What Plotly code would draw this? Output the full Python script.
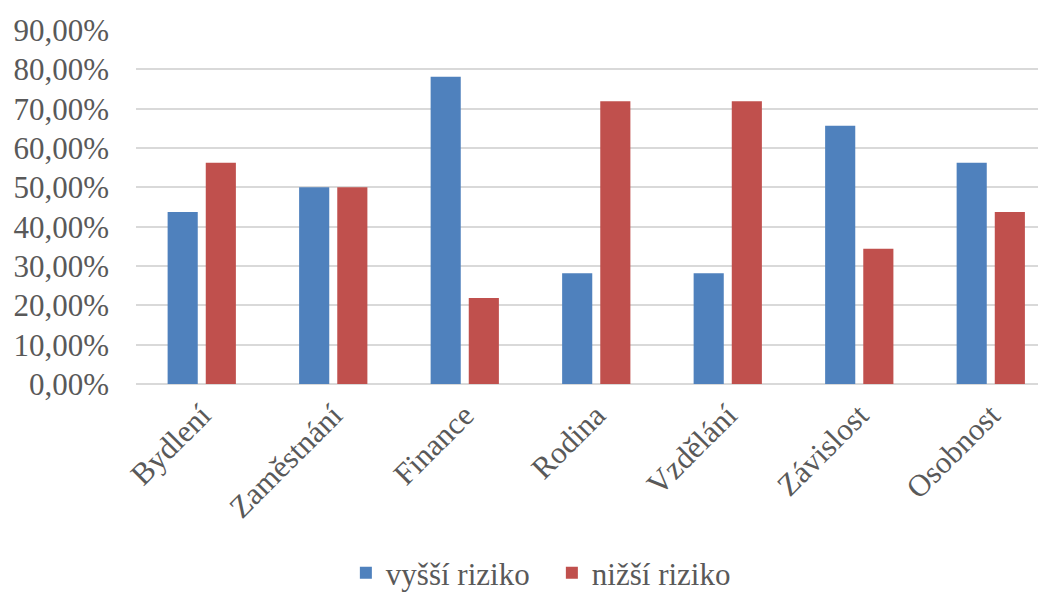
import plotly.graph_objects as go

categories = ['Bydlení', 'Zaměstnání', 'Finance', 'Rodina', 'Vzdělání', 'Závislost', 'Osobnost']
vyssi_riziko = [43.75, 50.00, 78.13, 28.13, 28.13, 65.63, 56.25]
nizsi_riziko = [56.25, 50.00, 21.88, 71.88, 71.88, 34.38, 43.75]
y_ticks = [0, 10, 20, 30, 40, 50, 60, 70, 80, 90]
y_tick_labels = [f'{v:.2f}%'.replace('.', ',') for v in y_ticks]

font_family = 'Liberation Serif'
text_color = '#595959'
tick_font = dict(family=font_family, size=31, color=text_color)

fig = go.Figure()
fig.add_trace(go.Bar(x=categories, y=vyssi_riziko, name='vyšší riziko',
                     marker=dict(color='#4F81BD', line=dict(width=0))))
fig.add_trace(go.Bar(x=categories, y=nizsi_riziko, name='nižší riziko',
                     marker=dict(color='#C0504D', line=dict(width=0))))

# the page body adds an 8px offset, so the figure is 8px smaller than the window
fig.update_layout(
    width=1038, height=584,
    margin=dict(l=128, r=0, t=22, b=208, autoexpand=False),
    paper_bgcolor='white', plot_bgcolor='white',
    barmode='group', bargap=0.42, bargroupgap=0.21,
    font=tick_font,
    showlegend=True,
    legend=dict(orientation='h', x=0.457, xanchor='center', y=-0.534, yanchor='middle',
                font=tick_font, itemclick=False, entrywidth=161),
    xaxis=dict(range=[-0.5, 6.42], tickangle=-45, showgrid=False, showline=False,
               tickfont=tick_font, ticks='', automargin=False, ticklabelstandoff=6),
    yaxis=dict(range=[0, 90], tickvals=y_ticks, ticktext=y_tick_labels,
               showgrid=True, gridcolor='#D9D9D9', gridwidth=1.5,
               zeroline=True, zerolinecolor='#D9D9D9', zerolinewidth=1.5,
               ticklabelstandoff=26, tickfont=tick_font, automargin=False),
)

fig.write_html("out.html")
